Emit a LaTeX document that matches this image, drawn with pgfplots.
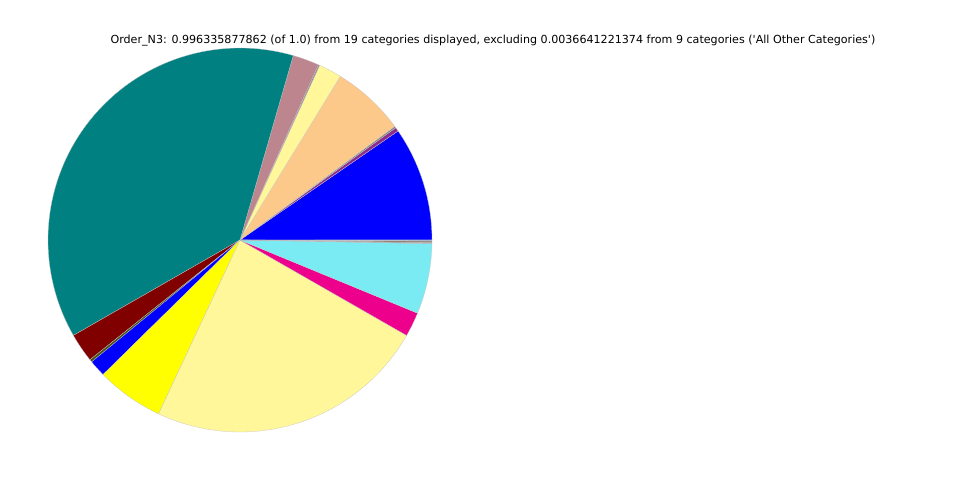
\documentclass[border=0pt]{standalone}
\usepackage{pgfplots}
\pgfplotsset{compat=1.18}
\usepackage{fontspec}
\setmainfont{DejaVu Sans}
\definecolor{cBlue}{HTML}{0000FF}
\definecolor{cPurple}{HTML}{8E2C8E}
\definecolor{cGrey}{HTML}{808080}
\definecolor{cPeach}{HTML}{FDC98B}
\definecolor{cLYellow}{HTML}{FFF799}
\definecolor{cMauve}{HTML}{BD868E}
\definecolor{cTeal}{HTML}{008080}
\definecolor{cMaroon}{HTML}{800000}
\definecolor{cOlive}{HTML}{4B5013}
\definecolor{cYellow}{HTML}{FFFF00}
\definecolor{cMagenta}{HTML}{EC008C}
\definecolor{cCyan}{HTML}{7AEBF2}
\definecolor{cGreyBlue}{HTML}{8FA0B8}
\definecolor{cBrownGrey}{HTML}{8C7B6A}
\definecolor{cSteel}{HTML}{9CB0D0}
\newcommand\slice[3]{\addplot[fill=#3, draw=black!22, line width=0.2pt, domain=#1:#2, samples=80, variable=\t] ({240+192*cos(\t)},{240+192*sin(\t)}) -- (axis cs:240,240) -- cycle;}
\begin{document}
\begin{tikzpicture}
\begin{axis}[scale only axis, width=720pt, height=360pt, xmin=0, xmax=960, ymin=0, ymax=480, hide axis, clip=false]
% slice start / end angles (degrees, counter-clockwise from east)
\slice{0}{34.6}{cBlue}
\slice{34.6}{35.8}{cPurple}
\slice{35.8}{36.3}{cGrey}
\slice{36.3}{58.5}{cPeach}
\slice{58.5}{65.5}{cLYellow}
\slice{65.5}{65.9}{cGrey}
\slice{65.9}{73.9}{cMauve}
\slice{73.9}{209.8}{cTeal}
\slice{209.8}{218.6}{cMaroon}
\slice{218.6}{219.4}{cOlive}
\slice{219.4}{224.5}{cBlue}
\slice{224.5}{244.9}{cYellow}
\slice{244.9}{330.2}{cLYellow}
\slice{330.2}{337.6}{cMagenta}
\slice{337.6}{358.9}{cCyan}
\slice{358.9}{359.25}{cGreyBlue}
\slice{359.25}{359.7}{cBrownGrey}
\slice{359.7}{360}{cSteel}
\node[font=\fontsize{8.33}{10}\selectfont, anchor=center] at (axis cs:493,439.5) {Order\_N3: 0.996335877862 (of 1.0) from 19 categories displayed, excluding 0.0036641221374 from 9 categories (\textquotesingle All Other Categories\textquotesingle)};
\end{axis}
\path (current axis.south west) rectangle (current axis.north east);
\end{tikzpicture}
\end{document}
